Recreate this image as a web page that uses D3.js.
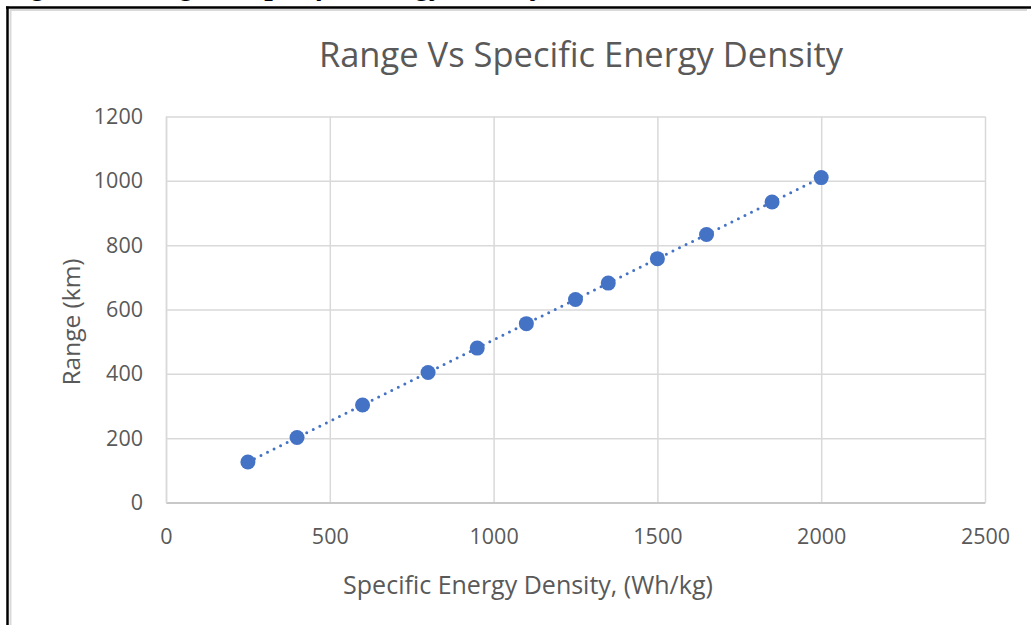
<!DOCTYPE html>
<html>
<head>
<meta charset="utf-8">
<script src="https://cdn.jsdelivr.net/npm/d3@7"></script>
<style>
  html, body { margin: 0; padding: 0; background: #fff; }
  svg { display: block; }
  .tick text { font-family: "Open Sans", sans-serif; fill: #595959; }
</style>
</head>
<body>
<div id="chart"></div>
<script>
"use strict";

// values
var energyDensity = [250, 400, 600, 800, 950, 1100, 1250, 1350, 1500, 1650, 1850, 2000];
var rangeKm = [126, 202, 303, 404, 480, 556, 631, 682, 758, 833, 934, 1010];
var xTicks = [0, 500, 1000, 1500, 2000, 2500];
var yTicks = [0, 200, 400, 600, 800, 1000, 1200];

var chartTitle = "Range Vs Specific Energy Density";
var xTitle = "Specific Energy Density, (Wh/kg)";
var yTitle = "Range (km)";
var caption = "Figure 4: Range vs Specific Energy Density";

var W = 1035, H = 625;
var margin = {top: 116.5, right: 50, bottom: 122.5, left: 166};
var width = W - margin.left - margin.right;   // 819
var height = H - margin.top - margin.bottom;  // 386

var blue = "#4472C4";

var svg = d3.select("#chart").append("svg")
    .attr("width", W)
    .attr("height", H);

// the cut-off document caption at the very top
svg.append("text")
    .attr("x", 5)
    .attr("y", -5)
    .style("font-family", "'Liberation Serif', serif")
    .style("font-weight", "bold")
    .style("font-style", "italic")
    .style("font-size", "30px")
    .attr("fill", "#000")
    .text(caption);

// page frame: black rule and the grey chart border inside it
svg.append("line")
    .attr("x1", 6).attr("x2", 1031).attr("y1", 7.5).attr("y2", 7.5)
    .attr("stroke", "#000").attr("stroke-width", 2.5);
svg.append("line")
    .attr("x1", 7.5).attr("x2", 7.5).attr("y1", 6.5).attr("y2", H)
    .attr("stroke", "#000").attr("stroke-width", 2.5);
svg.append("line")
    .attr("x1", 10.5).attr("x2", 1027).attr("y1", 10).attr("y2", 10)
    .attr("stroke", "#d9d9d9").attr("stroke-width", 2);
svg.append("line")
    .attr("x1", 10.5).attr("x2", 10.5).attr("y1", 9).attr("y2", H)
    .attr("stroke", "#d9d9d9").attr("stroke-width", 2);

var g = svg.append("g")
    .attr("transform", "translate(" + margin.left + "," + margin.top + ")");

var x = d3.scaleLinear()
    .domain([0, 2500])
    .range([0, width]);

var y = d3.scaleLinear()
    .domain([0, 1200])
    .range([height, 0]);

// gridlines
g.append("g")
    .attr("class", "grid")
    .attr("transform", "translate(0," + height + ")")
    .call(d3.axisBottom(x).tickValues(xTicks).tickSize(-height).tickFormat(""))
    .call(function(s) { s.select(".domain").remove(); })
    .selectAll("line")
    .attr("stroke", "#d9d9d9").attr("stroke-width", 1.5);

g.append("g")
    .attr("class", "grid")
    .call(d3.axisLeft(y).tickValues(yTicks).tickSize(-width).tickFormat(""))
    .call(function(s) { s.select(".domain").remove(); })
    .selectAll("line")
    .attr("stroke", "#d9d9d9").attr("stroke-width", 1.5);

// x axis
var xAxis = g.append("g")
    .attr("transform", "translate(0," + height + ")")
    .call(d3.axisBottom(x).tickValues(xTicks).tickFormat(d3.format("d")).tickSize(0).tickPadding(26));
xAxis.select(".domain").attr("stroke", "#bfbfbf").attr("stroke-width", 1.5);
xAxis.selectAll("text").style("font-size", "21.5px");

// y axis
var yAxis = g.append("g")
    .call(d3.axisLeft(y).tickValues(yTicks).tickFormat(d3.format("d")).tickSize(0).tickPadding(23));
yAxis.select(".domain").attr("stroke", "#d9d9d9").attr("stroke-width", 1.5);
yAxis.selectAll("text").style("font-size", "21.5px");

// dotted connecting line
var line = d3.line()
    .x(function(d, i) { return x(energyDensity[i]); })
    .y(function(d) { return y(d); });

g.append("path")
    .datum(rangeKm)
    .attr("fill", "none")
    .attr("stroke", blue)
    .attr("stroke-width", 3)
    .attr("stroke-linecap", "round")
    .attr("stroke-dasharray", "0,7.3")
    .attr("d", line);

// markers
g.selectAll("circle.pt")
    .data(rangeKm)
  .enter().append("circle")
    .attr("class", "pt")
    .attr("cx", function(d, i) { return x(energyDensity[i]); })
    .attr("cy", function(d) { return y(d); })
    .attr("r", 7.5)
    .attr("fill", blue);

// titles
svg.append("text")
    .attr("x", 581)
    .attr("y", 67)
    .attr("text-anchor", "middle")
    .style("font-family", "'Open Sans', sans-serif")
    .style("font-size", "34.5px")
    .attr("fill", "#595959")
    .text(chartTitle);

svg.append("text")
    .attr("x", 528)
    .attr("y", 594)
    .attr("text-anchor", "middle")
    .style("font-family", "'Open Sans', sans-serif")
    .style("font-size", "25px")
    .attr("fill", "#595959")
    .text(xTitle);

svg.append("text")
    .attr("transform", "translate(80,322) rotate(-90)")
    .attr("text-anchor", "middle")
    .style("font-family", "'Open Sans', sans-serif")
    .style("font-size", "24.5px")
    .attr("fill", "#595959")
    .text(yTitle);
</script>
</body>
</html>
